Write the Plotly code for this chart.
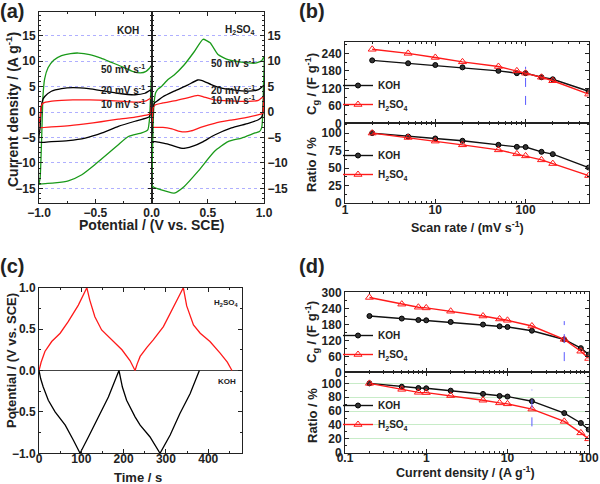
import math
import plotly.graph_objects as go

W, H = 600, 484
FONT = "Liberation Sans, Arial, sans-serif"
INK = "#222222"
GREEN = "#1a9a1a"
RED = "#ff1a1a"
BLUE = "rgb(90,90,255)"


def px(x):
    return x / W


def py(y):
    return 1 - y / H


# ---------------- (a) cyclic voltammetry ----------------
koh50_v = [-1.0, -0.99, -0.975, -0.965, -0.95, -0.92, -0.87, -0.8, -0.72, -0.65, -0.55, -0.45, -0.35, -0.25,
           -0.17, -0.1, -0.05, -0.02, 0.0, -0.005, -0.012, -0.02, -0.035, -0.089, -0.207, -0.296, -0.385,
           -0.503, -0.62, -0.74, -0.86, -0.976, -1.0]
koh50_i = [-14.2, -13.0, -4.0, 3.0, 6.5, 8.7, 10.2, 11.1, 11.5, 11.6, 11.3, 10.6, 9.7, 8.8,
           8.0, 7.7, 8.0, 8.6, 9.2, 6.0, 2.0, -1.5, -3.5, -4.1, -4.8, -6.4, -8.1,
           -10.3, -12.3, -13.5, -13.9, -14.1, -14.2]

koh20_v = [-1.0, -0.99, -0.98, -0.965, -0.947, -0.89, -0.8, -0.7, -0.56, -0.44, -0.3, -0.15, -0.06, 0.0,
           -0.005, -0.01, -0.02, -0.05, -0.148, -0.296, -0.44, -0.59, -0.74, -0.89, -1.0]
koh20_i = [-5.9, -3.0, 1.0, 2.5, 3.1, 4.1, 4.6, 4.8, 4.6, 4.2, 3.7, 3.4, 3.7, 4.4,
           2.5, 0.0, -0.9, -1.2, -1.8, -2.8, -4.1, -5.1, -5.6, -5.8, -5.9]

koh10_v = [-1.0, -0.99, -0.98, -0.96, -0.9, -0.8, -0.7, -0.55, -0.4, -0.25, -0.12, -0.05, 0.0,
           -0.005, -0.01, -0.03, -0.1, -0.148, -0.296, -0.45, -0.59, -0.75, -0.89, -1.0]
koh10_i = [-3.0, -1.0, 1.2, 1.8, 2.1, 2.3, 2.4, 2.4, 2.3, 2.1, 1.95, 2.2, 2.8,
           1.0, -0.3, -0.5, -0.8, -1.0, -1.4, -1.9, -2.3, -2.7, -2.9, -3.0]

h50_v = [0.0, 0.005, 0.012, 0.02, 0.035, 0.06, 0.086, 0.145, 0.2, 0.29, 0.38, 0.457, 0.52, 0.59, 0.68,
         0.8, 0.92, 0.98, 1.0, 0.995, 0.99, 0.98, 0.96, 0.92, 0.8, 0.68, 0.56, 0.41, 0.29, 0.2, 0.086,
         0.01, 0.0]
h50_i = [-14.2, -10.0, -3.0, 1.5, 3.8, 4.6, 5.0, 6.4, 7.3, 9.3, 11.9, 14.3, 13.6, 11.3, 10.3,
         9.8, 9.6, 10.1, 10.9, 5.0, 0.0, -3.0, -3.8, -4.1, -5.1, -5.8, -7.7, -11.7, -14.6, -15.9, -15.3,
         -14.6, -14.2]

h20_v = [0.0, 0.005, 0.012, 0.025, 0.056, 0.1, 0.2, 0.32, 0.41, 0.45, 0.53, 0.62, 0.71, 0.86, 0.95, 1.0,
         0.995, 0.99, 0.98, 0.95, 0.86, 0.71, 0.56, 0.45, 0.38, 0.3, 0.26, 0.2, 0.145, 0.08, 0.03, 0.0]
h20_i = [-5.8, -3.0, 0.5, 1.8, 2.3, 3.0, 4.1, 5.3, 6.3, 6.2, 5.4, 4.7, 4.4, 4.1, 4.4, 5.2,
         2.0, 0.0, -1.0, -1.5, -2.2, -3.1, -4.5, -5.9, -6.6, -7.1, -7.1, -6.7, -6.3, -6.0, -5.8, -5.8]

h10_v = [0.0, 0.005, 0.012, 0.03, 0.1, 0.2, 0.3, 0.41, 0.46, 0.56, 0.7, 0.86, 0.95, 1.0,
         0.995, 0.99, 0.97, 0.86, 0.7, 0.56, 0.45, 0.35, 0.3, 0.25, 0.18, 0.1, 0.03, 0.0]
h10_i = [-3.0, -1.5, 0.8, 1.4, 1.8, 2.2, 2.7, 3.3, 3.0, 2.4, 2.2, 2.1, 2.3, 3.1,
         1.2, -0.2, -0.4, -1.0, -1.6, -2.2, -2.9, -3.7, -3.9, -3.8, -3.3, -3.0, -3.0, -3.0]

# ---------------- (b) scan rate ----------------
b_rate = [2, 5, 10, 20, 50, 80, 100, 150, 200, 500]
b_cg_koh = [216, 206, 200, 192, 180, 172, 172, 158, 151, 110]
b_cg_h2so4 = [254, 240, 226, 211, 195, 180, 172, 158, 146, 100]
b_ratio_koh = [100, 95.1, 92.3, 89, 83.2, 80.3, 80, 73.2, 69.9, 50.7]
b_ratio_h2so4 = [100, 93.7, 88.5, 83.2, 76, 70.3, 67.4, 61.7, 56.4, 39.2]
b_err_x = [100, 100]
b_err_y = [63, 194]

# ---------------- (c) charge / discharge ----------------
c_h2so4_t = [0, 5, 14, 30, 50, 69, 93, 113, 120, 132, 148, 172, 196, 215, 227, 232, 239, 255, 270, 294,
             318, 341, 349, 365, 381, 404, 428, 445, 456]
c_h2so4_v = [0, 0.1, 0.23, 0.35, 0.45, 0.59, 0.79, 1.0, 0.85, 0.65, 0.49, 0.37, 0.25, 0.12, 0.0, 0.08,
             0.17, 0.28, 0.37, 0.53, 0.77, 1.0, 0.78, 0.55, 0.45, 0.35, 0.21, 0.1, 0.0]
c_koh_t = [0, 4, 10, 22, 38, 62, 81, 97, 117, 140, 164, 189, 193, 197, 207, 227, 239, 262, 286, 310, 333,
           357, 379]
c_koh_v = [0, -0.1, -0.2, -0.36, -0.5, -0.66, -0.84, -1.0, -0.8, -0.56, -0.32, 0.0, -0.1, -0.2, -0.36,
           -0.56, -0.66, -0.8, -1.0, -0.78, -0.52, -0.28, 0.0]

# ---------------- (d) current density ----------------
d_cd = [0.2, 0.5, 0.8, 1, 2, 5, 8, 10, 20, 50, 80, 100]
d_cg_koh = [211, 201.5, 196, 195, 188.7, 179, 172.5, 170, 156, 123, 90.6, 66.8]
d_cg_h2so4 = [280.7, 255.5, 244, 241.5, 229, 211, 200, 195, 173.6, 123.4, 79, 51.7]
d_ratio_koh = [100, 95.2, 93.3, 92.9, 89.5, 84.8, 81.9, 81, 74.3, 57.1, 42.9, 33.3]
d_ratio_h2so4 = [100, 91.4, 87.1, 86.7, 82.4, 75.7, 71.9, 70.5, 62.9, 45.2, 28.6, 20]
d_err_top_x = [50, 50]
d_err_top_y = [42, 192]
d_err_bot_x = [20, 20]
d_err_bot_y = [38, 91]

fig = go.Figure()


def cv(x, y, color, xa, ya):
    fig.add_trace(go.Scatter(x=x, y=y, mode="lines", line=dict(color=color, width=1.3, shape="spline", smoothing=0.5),
                             xaxis=xa, yaxis=ya, showlegend=False, hoverinfo="skip"))


cv(koh50_v, koh50_i, GREEN, "x", "y")
cv(koh20_v, koh20_i, "black", "x", "y")
cv(koh10_v, koh10_i, RED, "x", "y")
cv(h50_v, h50_i, GREEN, "x2", "y2")
cv(h20_v, h20_i, "black", "x2", "y2")
cv(h10_v, h10_i, RED, "x2", "y2")


def series(x, y, name, kind, xa, ya, legend):
    if kind == "KOH":
        marker = dict(symbol="circle", size=5, color="#333333", line=dict(color="black", width=1))
        color = "#111111"
    else:
        marker = dict(symbol="triangle-up-open", size=7, color=RED, line=dict(width=1))
        color = RED
    fig.add_trace(go.Scatter(x=x, y=y, mode="lines+markers", name=name, line=dict(color=color, width=1.4),
                             marker=marker, xaxis=xa, yaxis=ya, legend=legend))


def errline(x, y, xa, ya):
    fig.add_trace(go.Scatter(x=x, y=y, mode="lines", line=dict(color=BLUE, width=1, dash="dash"),
                             xaxis=xa, yaxis=ya, showlegend=False, hoverinfo="skip"))


H2 = "H<sub>2</sub>SO<sub>4</sub>"
series(b_rate, b_cg_koh, "KOH", "KOH", "x3", "y3", "legend")
series(b_rate, b_cg_h2so4, H2, "H", "x3", "y3", "legend")
errline(b_err_x, b_err_y, "x3", "y3")
series(b_rate, b_ratio_koh, "KOH", "KOH", "x4", "y4", "legend2")
series(b_rate, b_ratio_h2so4, H2, "H", "x4", "y4", "legend2")

fig.add_trace(go.Scatter(x=c_h2so4_t, y=c_h2so4_v, mode="lines", line=dict(color=RED, width=1.3),
                         xaxis="x5", yaxis="y5", showlegend=False))
fig.add_trace(go.Scatter(x=c_koh_t, y=c_koh_v, mode="lines", line=dict(color="black", width=1.3),
                         xaxis="x5", yaxis="y5", showlegend=False))

series(d_cd, d_cg_koh, "KOH", "KOH", "x6", "y6", "legend3")
series(d_cd, d_cg_h2so4, H2, "H", "x6", "y6", "legend3")
errline(d_err_top_x, d_err_top_y, "x6", "y6")
series(d_cd, d_ratio_koh, "KOH", "KOH", "x7", "y7", "legend4")
series(d_cd, d_ratio_h2so4, H2, "H", "x7", "y7", "legend4")
errline(d_err_bot_x, d_err_bot_y, "x7", "y7")

tickfont = dict(family=FONT, size=12, color=INK, weight="bold")
minor = dict(ticks="inside", ticklen=2, tickcolor=INK)


def ax(**kw):
    base = dict(showline=True, linecolor=INK, linewidth=1, mirror="ticks", ticks="inside", ticklen=4,
                tickcolor=INK, showgrid=False, zeroline=False, tickfont=tickfont, minor=minor,
                automargin=False)
    base.update(kw)
    return base


ya_dom = [py(202.7), py(12.3)]
agrid = dict(showgrid=True, gridcolor="rgba(110,110,255,0.55)", griddash="dot", gridwidth=1)
bx = [px(345), px(588.7)]
b_top = [py(123.3), py(42.3)]
b_bot = [py(203), py(123.3)]
d_top = [py(372.3), py(292.3)]
d_bot = [py(452.7), py(372.3)]

fig.update_layout(
    width=W, height=H, margin=dict(l=0, r=0, t=0, b=0, autoexpand=False),
    paper_bgcolor="white", plot_bgcolor="white",
    font=dict(family=FONT, color=INK, weight="bold"),
    xaxis=ax(domain=[px(39), px(151.7)], range=[-1, 0], dtick=0.5, tickformat=".1f", anchor="y",
             ticklabelstandoff=-1, minor=dict(ticks="inside", ticklen=2, tickcolor=INK, dtick=0.25)),
    yaxis=ax(domain=ya_dom, range=[-17.8, 19.6], dtick=5, anchor="x", **agrid),
    xaxis2=ax(domain=[px(151.7), px(264)], range=[0, 1], tickvals=[0, 0.5, 1.0], ticktext=["", "0.5", "1.0"],
              anchor="y2", ticklabelstandoff=-1,
              minor=dict(ticks="inside", ticklen=2, tickcolor=INK, dtick=0.25)),
    yaxis2=ax(domain=ya_dom, range=[-17.8, 19.6], dtick=5, anchor="x2", side="right", **agrid),
    xaxis3=ax(domain=bx, type="log", range=[0, math.log10(500)], dtick=1, showticklabels=False, anchor="y3"),
    yaxis3=ax(domain=b_top, range=[0, 278], dtick=60, anchor="x3", minor=dict(ticks="inside", ticklen=2,
                                                                                 tickcolor=INK, dtick=30)),
    xaxis4=ax(domain=bx, type="log", range=[0, math.log10(500)], dtick=1, anchor="y4", ticklabelstandoff=-4),
    yaxis4=ax(domain=b_bot, range=[0, 114], dtick=25, anchor="x4", minor=dict(ticks="inside", ticklen=2,
                                                                                 tickcolor=INK, dtick=12.5)),
    xaxis5=ax(domain=[px(39), px(241.7)], range=[0, 479], dtick=100, anchor="y5", ticklabelstandoff=-6,
              minor=dict(ticks="inside", ticklen=2, tickcolor=INK, dtick=50)),
    yaxis5=ax(domain=[py(453.3), py(287.7)], range=[-1, 1], dtick=0.5, tickformat=".1f", anchor="x5",
              zeroline=True, zerolinecolor="#444444", zerolinewidth=1.2,
              minor=dict(ticks="inside", ticklen=2, tickcolor=INK, dtick=0.25)),
    xaxis6=ax(domain=bx, type="log", range=[-1, 2], dtick=1, showticklabels=False, anchor="y6"),
    yaxis6=ax(domain=d_top, range=[0, 300], dtick=60, anchor="x6", minor=dict(ticks="inside", ticklen=2,
                                                                                 tickcolor=INK, dtick=30)),
    xaxis7=ax(domain=bx, type="log", range=[-1, 2], dtick=1, anchor="y7", ticklabelstandoff=-6),
    yaxis7=ax(domain=d_bot, range=[0, 116], dtick=20, anchor="x7", showgrid=True, gridcolor="#c8ecc8",
              minor=dict(ticks="inside", ticklen=2, tickcolor=INK, dtick=10)),
)

leg_common = dict(bgcolor="rgba(0,0,0,0)", font=dict(family=FONT, size=10, color=INK, weight="bold"),
                  xanchor="left", yanchor="top", itemwidth=30, tracegroupgap=0)
fig.update_layout(
    legend=dict(x=px(338), y=py(71), **leg_common),
    legend2=dict(x=px(338), y=py(141), **leg_common),
    legend3=dict(x=px(338), y=py(321), **leg_common),
    legend4=dict(x=px(338), y=py(391), **leg_common),
)


def text(x, y, s, size=12, xanchor="center", angle=0):
    fig.add_annotation(x=px(x), y=py(y), xref="paper", yref="paper", text=s, showarrow=False, xanchor=xanchor,
                       yanchor="middle", textangle=angle,
                       font=dict(family=FONT, size=size, color=INK, weight="bold"))


# panel letters
text(12, 11, "(a)", 20)
text(312, 11, "(b)", 20)
text(12, 266, "(c)", 20)
text(312, 266, "(d)", 20)

# axis titles
text(12, 110, "Current density / (A g<sup>-1</sup>)", 14, angle=-90)
text(151, 225, "Potential / (V vs. SCE)", 14)
text(312, 84, "C<sub>g</sub> / (F g<sup>-1</sup>)", 13, angle=-90)
text(312, 165, "Ratio / %", 13, angle=-90)
text(467, 227, "Scan rate / (mV s<sup>-1</sup>)", 12.5)
text(11, 361, "Potential / (V vs. SCE)", 13, angle=-90)
text(138, 477, "Time / s", 13)
text(312, 332, "C<sub>g</sub> / (F g<sup>-1</sup>)", 13, angle=-90)
text(312, 416, "Ratio / %", 13, angle=-90)
text(466, 472, "Current density / (A g<sup>-1</sup>)", 12.5)

# panel (a) labels
text(128, 30, "KOH", 10)
text(240, 30, H2, 10)
for yy, s in [(69, "50"), (90, "20"), (104, "10")]:
    text(147, yy, s + " mV s<sup>-1</sup>", 10, xanchor="right")
for yy, s in [(63, "50"), (90, "20"), (100, "10")]:
    text(257, yy, s + " mV s<sup>-1</sup>", 10, xanchor="right")

# panel (c) labels
text(226, 303, H2, 8)
text(227, 381, "KOH", 8)

fig.write_html("out.html", config={"staticPlot": True, "displayModeBar": False},
               post_script="document.body.style.margin='0px';")
